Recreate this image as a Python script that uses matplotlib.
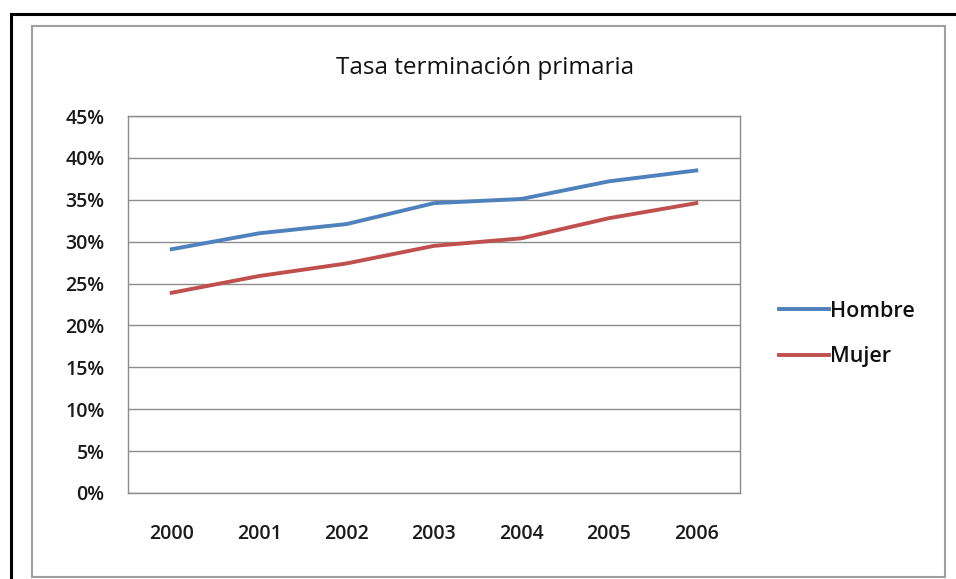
# Tasa terminacion primaria - line chart

import numpy as np
import matplotlib.pyplot as plt
from matplotlib.lines import Line2D
from matplotlib.patches import Rectangle

plt.rcParams['font.family'] = ['Open Sans', 'DejaVu Sans']

# Data
years = ['2000', '2001', '2002', '2003', '2004', '2005', '2006']
hombre = [29.1, 31.0, 32.1, 34.6, 35.1, 37.2, 38.5]
mujer = [23.9, 25.9, 27.4, 29.5, 30.4, 32.8, 34.6]
y_ticks = [0, 5, 10, 15, 20, 25, 30, 35, 40, 45]

W, H = 956, 579
fig = plt.figure(figsize=(W / 100, H / 100), dpi=100)

# outer black frame (top and left edges)
fig.add_artist(Line2D([11 / W, 11 / W], [0, 1 - 14 / H], color='black', lw=2.2))
fig.add_artist(Line2D([11 / W, 1], [1 - 14 / H, 1 - 14 / H], color='black', lw=2.2))
# grey chart border
fig.add_artist(Rectangle((32 / W, 2 / H), (945 - 32) / W, (577 - 26) / H,
                         transform=fig.transFigure, fill=False,
                         edgecolor='#a0a0a0', lw=1.5))

ax = fig.add_axes([128 / W, (H - 493) / H, (740 - 128) / W, (493 - 116) / H])
x = np.arange(len(years))
ax.plot(x, hombre, color='#4F81BD', lw=2.8, label='Hombre')
ax.plot(x, mujer, color='#C0504D', lw=2.8, label='Mujer')

ax.set_xlim(-0.5, len(years) - 0.5)
ax.set_ylim(0, 45)
ax.set_yticks(y_ticks)
ax.set_yticklabels([f'{v}%' for v in y_ticks])
ax.set_xticks(x)
ax.set_xticklabels(years)
ax.grid(axis='y', color='#8c8c8c', lw=1)
ax.set_axisbelow(True)
for s in ax.spines.values():
    s.set_color('#8c8c8c')
    s.set_linewidth(1)
ax.tick_params(length=0, labelsize=14, colors='#1a1a1a')
ax.tick_params(axis='y', pad=17)
ax.tick_params(axis='x', pad=22)
for lab in ax.get_xticklabels() + ax.get_yticklabels():
    lab.set_fontweight('semibold')

fig.text(485 / W, 1 - 74 / H, 'Tasa terminación primaria',
         ha='center', va='baseline', fontsize=17.5, color='#111111')

leg = ax.legend(loc='center left', bbox_to_anchor=(779 / W, 1 - 334 / H),
                bbox_transform=fig.transFigure, frameon=False,
                prop={'size': 15.5, 'weight': 'semibold'},
                handlelength=2.3, handletextpad=0.05, labelspacing=1.15,
                borderpad=0, borderaxespad=0)
for t in leg.get_texts():
    t.set_color('#111111')

fig.savefig('out.png', dpi=100)
